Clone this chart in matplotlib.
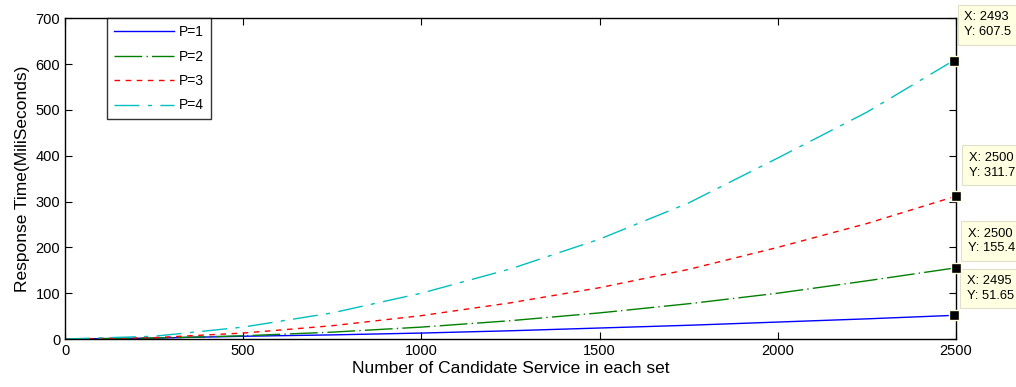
import matplotlib.pyplot as plt
import numpy as np

plt.rcParams['font.family'] = ['Liberation Sans', 'DejaVu Sans']

# values
x1 = [0, 250, 500, 750, 1000, 1250, 1500, 1750, 2000, 2250, 2495]
p1 = [0, 2, 6, 9, 13, 18, 24, 30, 37, 44, 51.65]
x2 = [0, 250, 500, 750, 1000, 1250, 1500, 1750, 2000, 2250, 2500]
p2 = [0, 2, 7, 15, 26, 40, 57, 77, 100, 127, 155.4]
x3 = [0, 250, 500, 750, 1000, 1250, 1500, 1750, 2000, 2250, 2500]
p3 = [0, 3, 13, 29, 51, 79, 112, 152, 200, 252, 311.7]
x4 = [0, 250, 500, 750, 1000, 1250, 1500, 1750, 2000, 2250, 2493]
p4 = [0, 6, 26, 57, 100, 153, 218, 297, 395, 495, 607.5]
labels = ['P=1', 'P=2', 'P=3', 'P=4']

fig = plt.figure(figsize=(10.16, 3.87), dpi=100)
ax = fig.add_axes([0.064, 0.124, 0.877, 0.829])

ax.plot(x1, p1, color='#0000ff', lw=1, label=labels[0])
ax.plot(x2, p2, color='#008000', lw=1, dashes=(20, 3, 1, 3), label=labels[1])
ax.plot(x3, p3, color='#ff0000', lw=1, dashes=(4, 4), label=labels[2])
ax.plot(x4, p4, color='#00bfbf', lw=1, dashes=(18, 6, 3, 6), label=labels[3])

# data tips
tips = [(x4[-1], p4[-1], (10.5, 22.5)),
        (x3[-1], p3[-1], (12.5, 17.5)),
        (x2[-1], p2[-1], (11.5, 13.5)),
        (x1[-1], p1[-1], (12.5, 13.5))]
for tx, ty, off in tips:
    ax.plot(tx, ty, 's', color='black', ms=7, mec='#ffffe0', mew=1, clip_on=False, zorder=5)
    ax.annotate(f'X: {tx}\nY: {ty:g}', xy=(tx, ty), xytext=off, textcoords='offset pixels',
                ha='left', va='bottom', fontsize=9.3, linespacing=1.3, annotation_clip=False,
                bbox=dict(boxstyle='square,pad=0.5', fc='#ffffe1', ec='#e0e0c8', lw=0.8))

ax.set_xlim(0, 2500)
ax.set_ylim(0, 700)
ax.set_xticks(np.arange(0, 2501, 500))
ax.set_yticks(np.arange(0, 701, 100))
ax.tick_params(direction='in', length=5, top=True, right=True, labelsize=10.5, width=0.8)
for s in ax.spines.values():
    s.set_linewidth(1)
ax.set_xlabel('Number of Candidate Service in each set', fontsize=12.5, labelpad=2)
ax.set_ylabel('Response Time(MiliSeconds)', fontsize=12.5, labelpad=4)

leg = ax.legend(loc='upper left', bbox_to_anchor=(0.047, 1.0), fontsize=10, frameon=True,
                fancybox=False, edgecolor='black', handlelength=4.3, borderpad=0.5,
                labelspacing=0.75, handletextpad=0.4, borderaxespad=0)
leg.get_frame().set_linewidth(1)

fig.savefig('out.png', dpi=100)
